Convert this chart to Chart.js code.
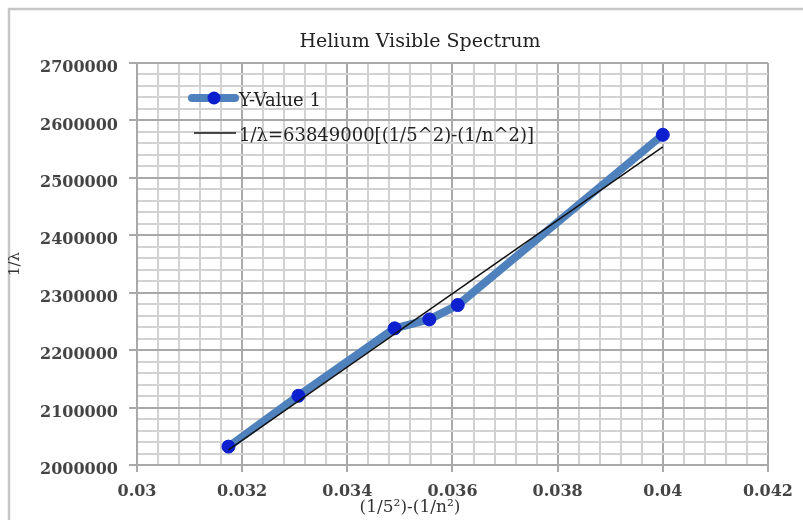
<!DOCTYPE html>
<html>
<head>
<meta charset="utf-8">
<title>Helium Visible Spectrum</title>
<script src="https://cdn.jsdelivr.net/npm/chart.js@4.4.1/dist/chart.umd.min.js"></script>
<style>
  html, body { margin: 0; padding: 0; background: #fff; }
  #wrap { width: 803px; height: 520px; position: relative; }
</style>
</head>
<body>
<div id="wrap"><canvas id="heliumChart" width="803" height="520"></canvas></div>
<script>
// ---- data ----
const chartTitle = "Helium Visible Spectrum";
const xAxisTitle = "(1/5²)-(1/n²)";
const yAxisTitle = "1/λ";

// measured points (x = 1/5^2 - 1/n^2, y = 1/lambda)
const measuredLabel = "Y-Value 1";
const measuredX = [0.03174, 0.03307, 0.03490, 0.03556, 0.03610, 0.04000];
const measuredY = [2032000, 2120500, 2238000, 2253500, 2278500, 2575000];

// fitted line end points
const fitLabel = "1/λ=63849000[(1/5^2)-(1/n^2)]";
const fitX = [0.03174, 0.04000];
const fitY = [2026500, 2554000];

// axis ranges and steps
const xRange = [0.03, 0.042];
const xMajor = 0.002;
const xMinor = 0.0004;
const yRange = [2000000, 2700000];
const yMajor = 100000;
const yMinor = 20000;

const SERIF = "'DejaVu Serif', 'Liberation Serif', serif";
const BLUE_LINE = "#4F81BD";
const BLUE_DOT = "#0c20cf";
const GRID_MINOR = "#d2d2d2";
const GRID_MAJOR = "#a9a9a9";

function isMajor(v, step) {
  const r = v / step;
  return Math.abs(r - Math.round(r)) < 1e-6;
}

/* ---------- extra text + frame + legend (drawn on the canvas) ---------- */
const decorations = {
  id: "decorations",
  beforeDraw(chart) {
    const ctx = chart.ctx;
    ctx.save();
    ctx.fillStyle = "#fff";
    ctx.fillRect(0, 0, chart.width, chart.height);
    ctx.strokeStyle = "#c6c6c6";
    ctx.lineWidth = 2.5;
    ctx.strokeRect(9, 9, chart.width, chart.height);
    ctx.restore();
  },
  afterDraw(chart) {
    const ctx = chart.ctx;
    ctx.save();
    // main title
    ctx.fillStyle = "#222";
    ctx.font = "19px " + SERIF;
    ctx.textAlign = "center";
    ctx.textBaseline = "middle";
    ctx.fillText(chartTitle, 420, 42);
    // x axis title
    ctx.fillStyle = "#333";
    ctx.font = "17px " + SERIF;
    ctx.fillText(xAxisTitle, 410, 508);

    // legend inside plot area
    const items = chart.data.datasets;
    const rows = [98, 133];
    items.forEach((ds, i) => {
      const y = rows[i];
      ctx.lineCap = "round";
      if (ds.pointRadius > 0) {
        ctx.strokeStyle = ds.borderColor;
        ctx.lineWidth = ds.borderWidth;
        ctx.beginPath();
        ctx.moveTo(192, y);
        ctx.lineTo(235, y);
        ctx.stroke();
        ctx.fillStyle = ds.pointBackgroundColor;
        ctx.beginPath();
        ctx.arc(214, y, ds.pointRadius, 0, Math.PI * 2);
        ctx.fill();
      } else {
        ctx.lineCap = "butt";
        ctx.strokeStyle = ds.borderColor;
        ctx.lineWidth = ds.borderWidth;
        ctx.beginPath();
        ctx.moveTo(194, y);
        ctx.lineTo(236, y);
        ctx.stroke();
      }
      ctx.fillStyle = "#222";
      ctx.font = "18px " + SERIF;
      ctx.textAlign = "left";
      ctx.textBaseline = "middle";
      ctx.fillText(ds.label, 239, y + 3);
    });
    ctx.restore();
  },
};

const measuredPoints = measuredX.map((x, i) => ({ x, y: measuredY[i] }));
const fitPoints = fitX.map((x, i) => ({ x, y: fitY[i] }));

new Chart(document.getElementById("heliumChart"), {
  type: "scatter",
  data: {
    datasets: [
      {
        label: measuredLabel,
        data: measuredPoints,
        showLine: true,
        borderColor: BLUE_LINE,
        borderWidth: 8,
        borderCapStyle: "round",
        borderJoinStyle: "round",
        pointRadius: 6.5,
        pointBackgroundColor: BLUE_DOT,
        pointBorderColor: BLUE_DOT,
        pointBorderWidth: 1,
        order: 2,
      },
      {
        label: fitLabel,
        data: fitPoints,
        showLine: true,
        borderColor: "#111",
        borderWidth: 1.5,
        pointRadius: 0,
        order: 1,
      },
    ],
  },
  options: {
    responsive: false,
    animation: false,
    layout: { padding: { top: 63, right: 33, bottom: 0, left: 0 } },
    plugins: {
      legend: { display: false },
      title: { display: false },
      tooltip: { enabled: false },
    },
    scales: {
      x: {
        type: "linear",
        min: xRange[0],
        max: xRange[1],
        afterFit: (scale) => { scale.height = 55; },
        border: { color: GRID_MAJOR, width: 2 },
        grid: {
          lineWidth: 2,
          tickLength: 7,
          color: (c) => (isMajor(c.tick.value, xMajor) ? GRID_MAJOR : GRID_MINOR),
          tickColor: (c) => (isMajor(c.tick.value, xMajor) ? GRID_MAJOR : "rgba(0,0,0,0)"),
        },
        ticks: {
          stepSize: xMinor,
          autoSkip: false,
          maxRotation: 0,
          padding: 10,
          color: "#444",
          font: { family: SERIF, size: 16, weight: "bold" },
          callback: (v) => (isMajor(v, xMajor) ? String(+v.toFixed(3)) : ""),
        },
      },
      y: {
        type: "linear",
        min: yRange[0],
        max: yRange[1],
        afterFit: (scale) => { scale.width = 137; },
        border: { color: GRID_MAJOR, width: 2 },
        grid: {
          lineWidth: 2,
          tickLength: 8,
          color: (c) => (isMajor(c.tick.value, yMajor) ? GRID_MAJOR : GRID_MINOR),
          tickColor: (c) => (isMajor(c.tick.value, yMajor) ? GRID_MAJOR : "rgba(0,0,0,0)"),
        },
        title: {
          display: true,
          text: yAxisTitle,
          color: "#333",
          font: { family: SERIF, size: 15 },
          padding: { top: 6, bottom: 0 },
        },
        ticks: {
          stepSize: yMinor,
          autoSkip: false,
          padding: 11,
          labelOffset: 5,
          color: "#444",
          font: { family: SERIF, size: 16, weight: "bold" },
          callback: (v) => (isMajor(v, yMajor) ? String(Math.round(v)) : ""),
        },
      },
    },
  },
  plugins: [decorations],
});
</script>
</body>
</html>
